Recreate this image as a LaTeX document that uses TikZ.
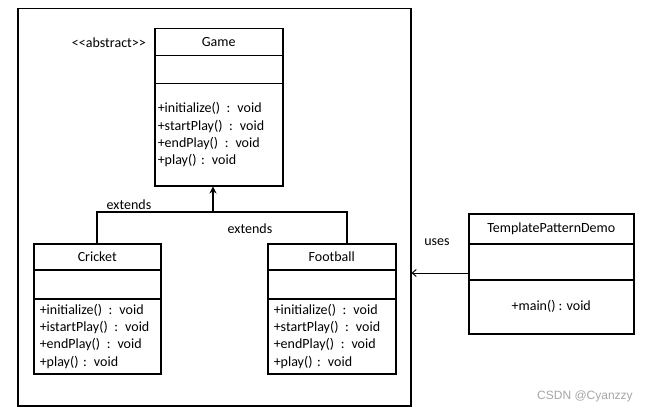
\documentclass[tikz,border=0pt]{standalone}
\usepackage{fontspec}
\setmainfont{Carlito}
\newfontfamily\wmfont{Liberation Sans}
\usetikzlibrary{arrows.meta}
\newcommand\gp{\hspace{2pt} }
\begin{document}
\begin{tikzpicture}[x=1pt,y=-1pt,
  font=\fontsize{14}{17.2}\selectfont,
  part/.style={draw, line width=1.5pt, inner sep=0pt, anchor=north west},
  ops/.style={part, align=left, inner xsep=3pt},
  lbl/.style={inner sep=0pt},
  ext/.style={line width=1.8pt},
  uses/.style={line width=1pt, -{Straight Barb[length=4pt,width=7pt]}}]
\useasboundingbox (0,0) rectangle (646,412);
% outer frame
\node[part, minimum width=393pt, minimum height=397pt] (frame) at (17,8) {};
% Game
\node[part, minimum width=128pt, minimum height=27pt] (gamename) at (154,28) {Game};
\node[part, minimum width=128pt, minimum height=28pt] (gameattr) at (154,55) {};
\node[ops, minimum width=128pt, minimum height=102pt, text width=122pt] (gameops) at (154,83)
  {+initialize()\gp: void\\+startPlay()\gp: void\\+endPlay()\gp: void\\+play() : void};
\node[lbl, anchor=east] (abs) at (146,43) {<{}<abstract>{}>};
% Cricket
\node[part, minimum width=127pt, minimum height=26pt] (cricketname) at (33,243) {Cricket};
\node[part, minimum width=127pt, minimum height=29pt] (cricketattr) at (33,269) {};
\node[ops, inner xsep=6pt, minimum width=127pt, minimum height=75pt, text width=115pt] (cricketops) at (33,298)
  {+initialize()\gp: void\\+istartPlay()\gp: void\\+endPlay()\gp: void\\+play() : void};
% Football
\node[part, minimum width=128pt, minimum height=26pt] (footballname) at (267,243) {Football};
\node[part, minimum width=128pt, minimum height=29pt] (footballattr) at (267,269) {};
\node[ops, inner xsep=6pt, minimum width=128pt, minimum height=75pt, text width=116pt] (footballops) at (267,298)
  {+initialize()\gp: void\\+startPlay()\gp: void\\+endPlay()\gp: void\\+play() : void};
% TemplatePatternDemo
\node[part, minimum width=165pt, minimum height=30pt] (tpdname) at (468,213) {TemplatePatternDemo};
\node[part, minimum width=165pt, minimum height=36pt] (tpdattr) at (468,243) {};
\node[part, minimum width=165pt, minimum height=54pt] (tpdops) at (468,279) {+main() : void};
% inheritance connectors
\coordinate (join) at (213,212);
\draw[ext] (cricketname.north) |- (join) -| ([xshift=15pt]footballname.north);
\draw[ext, -{Stealth[length=7pt,width=7pt]}] (join) -- (gameops.south -| join);
\node[lbl] (ext1) at (129,205) {extends};
\node[lbl] (ext2) at (250,229) {extends};
% uses connector
\coordinate (usesstart) at (468,273);
\draw[uses] (usesstart) -- (usesstart -| frame.east);
\node[lbl] (useslbl) at (437,242) {uses};
% watermark
\node[lbl, text=black!35, font=\wmfont\fontsize{12}{14}\selectfont] (wm) at (585,396) {CSDN @Cyanzzy};
\end{tikzpicture}
\end{document}
